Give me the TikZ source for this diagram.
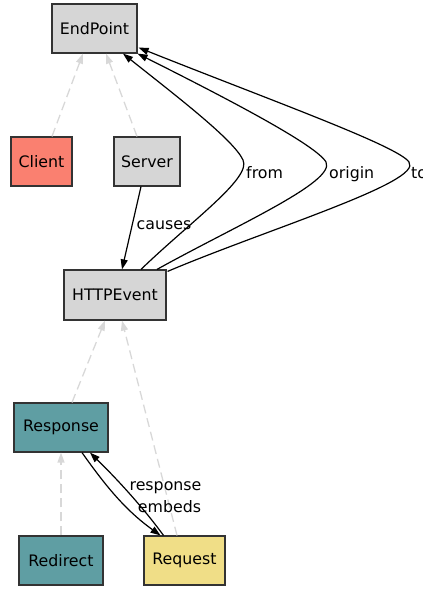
\documentclass[tikz,border=0pt]{standalone}
\usepackage{fontspec}
\setmainfont{DejaVu Sans}
\usetikzlibrary{arrows.meta,calc}
\definecolor{boxgray}{HTML}{D6D6D6}
\definecolor{salmonfill}{HTML}{FA8070}
\definecolor{tealfill}{HTML}{5F9EA3}
\definecolor{khakifill}{HTML}{F0DE87}
\definecolor{edgegray}{HTML}{D8D8D8}
\definecolor{bordergray}{HTML}{333333}
\tikzset{
  cls/.style={draw=bordergray, line width=1.2pt, rectangle, inner sep=0pt,
    font=\fontsize{15.8}{18}\selectfont, minimum height=49pt},
  rel/.style={draw=black, line width=1.2pt, -{Triangle[length=10pt,width=7pt]}},
  isa/.style={draw=edgegray, line width=1.3pt, dash pattern=on 9pt off 5pt,
    -{Triangle[length=10pt,width=7pt]}},
  lbl/.style={font=\fontsize{15.8}{18}\selectfont, inner sep=0pt},
}
\begin{document}
\begin{tikzpicture}[x=1pt,y=-1pt]
\useasboundingbox (0,0) rectangle (423,590);

% classes
\node[cls, fill=boxgray, minimum width=85pt] (ep) at (94.5,28.5) {EndPoint};
\node[cls, fill=salmonfill, minimum width=61pt] (cl) at (41.5,161.5) {Client};
\node[cls, fill=boxgray, minimum width=66pt] (sv) at (147,161.5) {Server};
\node[cls, fill=boxgray, minimum width=102pt, minimum height=50pt] (he) at (115,295) {HTTPEvent};
\node[cls, fill=tealfill, minimum width=94pt] (rs) at (61,427.5) {Response};
\node[cls, fill=tealfill, minimum width=84pt] (rd) at (61,560.5) {Redirect};
\node[cls, fill=khakifill, minimum width=81pt] (rq) at (184.5,560.5) {Request};

% subclass links
\draw[isa] ($(cl.north)+(10.5,0)$) -- ($(ep.south)+(-11.5,0)$);
\draw[isa] ($(sv.north)+(-10,0)$) -- ($(ep.south)+(11.5,0)$);
\draw[isa] ($(rs.north)+(11,0)$) -- ($(he.south)+(-10,0)$);
\draw[isa] ($(rq.north)+(-7.5,0)$) -- ($(he.south)+(7,0)$);
\draw[isa] (rd.north) -- (rs.south);

% properties
\draw[rel] ($(sv.south)+(-6,0)$) -- ($(he.north)+(7,0)$);
\node[lbl, anchor=base] (lcauses) at (164,229) {causes};

\draw[rel] ($(he.north)+(26,0)$) .. controls (190,222) and (252,178) .. (243,160)
  .. controls (234,140) and (175,95) .. ($(ep.south)+(28.5,0)$);
\node[lbl, anchor=base west] (lfrom) at (246,178) {from};

\draw[rel] ($(he.north)+(42,0)$) .. controls (235,226) and (336,182) .. (326,162)
  .. controls (316,145) and (230,100) .. (ep.south east);
\node[lbl, anchor=base west] (lorigin) at (329,178) {origin};

\draw[rel] ($(he.north east)+(1,2)$) .. controls (265,230) and (424,182) .. (409,162)
  .. controls (398,146) and (270,100) .. ($(ep.south east)+(1,-6)$);
\node[lbl, anchor=base west] (lto) at (411,178) {to};

\draw[rel] ($(rs.south)+(21,0)$) .. controls (105,485) and (125,510) .. ($(rq.north)+(-24,0)$);
\draw[rel] ($(rq.north)+(-21,0)$) .. controls (145,510) and (120,482) .. ($(rs.south)+(29,0)$);
\node[lbl, anchor=base] (lresponse) at (165.5,490) {response};
\node[lbl, anchor=base] (lembeds) at (169.5,512) {embeds};
\end{tikzpicture}
\end{document}
